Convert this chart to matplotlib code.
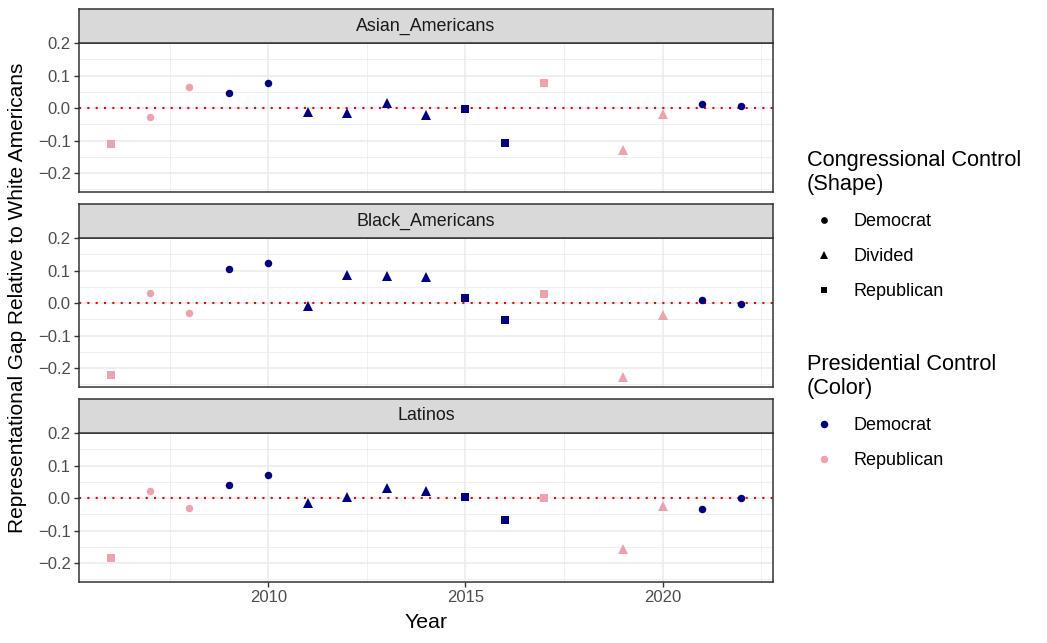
import matplotlib
matplotlib.use("Agg")
import matplotlib.pyplot as plt
from matplotlib.lines import Line2D
from matplotlib.ticker import MultipleLocator, FixedLocator

plt.rcParams['font.family'] = ['Liberation Sans', 'DejaVu Sans']

# ---- data ----
years = [2006, 2007, 2008, 2009, 2010, 2011, 2012, 2013, 2014, 2015, 2016,
         2017, 2019, 2020, 2021, 2022]
president = ["Republican", "Republican", "Republican", "Democrat", "Democrat",
             "Democrat", "Democrat", "Democrat", "Democrat", "Democrat", "Democrat",
             "Republican", "Republican", "Republican", "Democrat", "Democrat"]
congress = ["Republican", "Democrat", "Democrat", "Democrat", "Democrat",
            "Divided", "Divided", "Divided", "Divided", "Republican", "Republican",
            "Republican", "Divided", "Divided", "Democrat", "Democrat"]

groups = ["Asian_Americans", "Black_Americans", "Latinos"]
asian_gap = [-0.111, -0.027, 0.066, 0.046, 0.077, -0.012, -0.016, 0.015, -0.021,
             -0.002, -0.107, 0.078, -0.130, -0.019, 0.013, 0.006]
black_gap = [-0.222, 0.030, -0.031, 0.106, 0.124, -0.009, 0.087, 0.084, 0.079,
             0.016, -0.051, 0.029, -0.227, -0.038, 0.010, -0.002]
latino_gap = [-0.185, 0.022, -0.029, 0.041, 0.070, -0.015, 0.003, 0.030, 0.022,
              0.002, -0.068, 0.000, -0.157, -0.025, -0.033, 0.000]
gaps = [asian_gap, black_gap, latino_gap]

# ---- styling ----
PRES_COLORS = {"Democrat": "#000080", "Republican": "#EEA2AD"}
CONG_SHAPES = {"Democrat": ("o", 5.4), "Divided": ("^", 7.0), "Republican": ("s", 5.3)}
BORDER = "#333333"

W, H = 1047, 643
fig = plt.figure(figsize=(W / 100, H / 100), dpi=100)

left, right = 79 / W, 773 / W
panel_tops = [43, 238, 433]
panel_h = 149
strip_h = 34

for i, (group, vals) in enumerate(zip(groups, gaps)):
    top = panel_tops[i]
    ax = fig.add_axes([left, 1 - (top + panel_h) / H, right - left, panel_h / H])
    sax = fig.add_axes([left, 1 - top / H, right - left, strip_h / H])

    # strip
    sax.set_facecolor("#D9D9D9")
    sax.set_xticks([])
    sax.set_yticks([])
    for sp in sax.spines.values():
        sp.set_color(BORDER)
        sp.set_linewidth(1.1)
    sax.text(0.5, 0.5, group, ha="center", va="center", fontsize=12.9,
             color="#1A1A1A", transform=sax.transAxes)

    # grid
    ax.set_xlim(2005.2, 2022.8)
    ax.set_ylim(-0.258, 0.2)
    ax.xaxis.set_major_locator(FixedLocator([2010, 2015, 2020]))
    ax.xaxis.set_minor_locator(FixedLocator([2007.5, 2012.5, 2017.5, 2022.5]))
    ax.yaxis.set_major_locator(MultipleLocator(0.1))
    ax.yaxis.set_minor_locator(FixedLocator([-0.25, -0.15, -0.05, 0.05, 0.15]))
    ax.grid(which="major", color="#EBEBEB", lw=1.1)
    ax.grid(which="minor", color="#EBEBEB", lw=0.55)
    ax.set_axisbelow(True)

    ax.axhline(0, color="red", lw=1.5, dashes=(1, 3), dash_capstyle="butt", zorder=2)

    # points grouped by congress shape and presidential colour
    for cong, (mk, ms) in CONG_SHAPES.items():
        for pres, col in PRES_COLORS.items():
            xs = [y for y, c, p in zip(years, congress, president) if c == cong and p == pres]
            ys = [v for v, c, p in zip(vals, congress, president) if c == cong and p == pres]
            if xs:
                ax.plot(xs, ys, linestyle="none", marker=mk, markersize=ms,
                        color=col, markeredgewidth=0, zorder=3)

    ax.yaxis.set_major_formatter(plt.FuncFormatter(lambda v, p: f"{v:.1f}".replace("-", "\u2212")))
    ax.tick_params(axis="y", which="major", length=3.5, color=BORDER, width=1,
                   labelsize=12, labelcolor="#4D4D4D", pad=2.5)
    ax.tick_params(which="minor", length=0)
    if i < 2:
        ax.tick_params(axis="x", which="major", length=0, labelbottom=False)
    else:
        ax.tick_params(axis="x", which="major", length=3.5, color=BORDER, width=1,
                       labelsize=12, labelcolor="#4D4D4D", pad=2.5)
    for sp in ax.spines.values():
        sp.set_color(BORDER)
        sp.set_linewidth(1.1)

fig.text((79 + 773) / 2 / W, 1 - 622 / H, "Year", ha="center", va="center", fontsize=15.3)
fig.text(18 / W, 1 - 298 / H, "Representational Gap Relative to White Americans",
         ha="center", va="center", rotation=90, fontsize=15)

# legends
shape_handles = [Line2D([], [], linestyle="none", marker=mk, markersize=ms * 0.9,
                        color="black", markeredgewidth=0)
                 for mk, ms in CONG_SHAPES.values()]
leg1 = fig.legend(shape_handles, list(CONG_SHAPES.keys()),
                  title="Congressional Control\n(Shape)", loc="upper left",
                  bbox_to_anchor=(807 / W, 1 - 150 / H), frameon=False,
                  fontsize=13, title_fontsize=15.7, alignment="left",
                  borderpad=0, handlelength=1.88, handletextpad=0.7,
                  labelspacing=1.0, borderaxespad=0)
color_handles = [Line2D([], [], linestyle="none", marker="o", markersize=5.4,
                        color=c, markeredgewidth=0) for c in PRES_COLORS.values()]
leg2 = fig.legend(color_handles, list(PRES_COLORS.keys()),
                  title="Presidential Control\n(Color)", loc="upper left",
                  bbox_to_anchor=(807 / W, 1 - 354 / H), frameon=False,
                  fontsize=13, title_fontsize=15.7, alignment="left",
                  borderpad=0, handlelength=1.88, handletextpad=0.7,
                  labelspacing=1.0, borderaxespad=0)

fig.savefig("out.png", dpi=100)
